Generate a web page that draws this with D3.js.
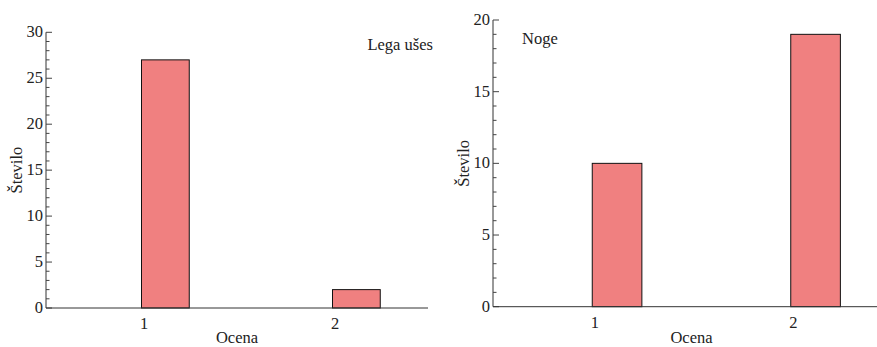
<!DOCTYPE html>
<html>
<head>
<meta charset="utf-8">
<script src="https://cdn.jsdelivr.net/npm/d3@7"></script>
<style>
  body { margin: 0; background: #fff; }
  svg text { font-family: "Liberation Serif", "DejaVu Serif", serif; fill: #222; }
</style>
</head>
<body>
<div class="charts"></div>
<script>
var categories = [1, 2];
var legaUses = [27, 2];
var noge = [10, 19];
var legaTicks = [0, 5, 10, 15, 20, 25, 30];
var nogeTicks = [0, 5, 10, 15, 20];
var xLabel = "Ocena";
var yLabel = "Število";

var svg = d3.select(".charts")
	.append("svg")
	.attr("width", 877)
	.attr("height", 347)
	.attr("font-family", "Liberation Serif, serif");

function plotPanel(p) {
	var x = d3.scaleLinear().domain([0.5, 2.5]).range([p.left, p.right]);
	var y = d3.scaleLinear().domain([0, p.max]).range([p.bottom, p.top]);
	var g = svg.append("g");

	g.selectAll("rect")
		.data(p.values)
		.enter()
		.append("rect")
		.attr("x", function (d, i) { return x(categories[i]); })
		.attr("y", function (d) { return y(d); })
		.attr("width", function (d, i) { return x(categories[i] + 0.25) - x(categories[i]); })
		.attr("height", function (d) { return y(0) - y(d); })
		.style("fill", "#f08080")
		.style("stroke", "#111")
		.style("stroke-width", 1);

	// y axis with minor ticks every 1
	g.append("line")
		.attr("x1", p.left).attr("x2", p.left)
		.attr("y1", y(p.max)).attr("y2", y(0))
		.style("stroke", "#333");
	g.selectAll(".minor")
		.data(d3.range(0, p.max + 1))
		.enter()
		.append("line")
		.attr("x1", p.left)
		.attr("x2", function (d) { return p.left + (d % 5 == 0 ? 6 : 3.5); })
		.attr("y1", function (d) { return y(d); })
		.attr("y2", function (d) { return y(d); })
		.style("stroke", "#444");
	g.selectAll(".ylab")
		.data(p.ticks)
		.enter()
		.append("text")
		.attr("x", p.left - 3)
		.attr("y", function (d) { return y(d) + 5; })
		.attr("text-anchor", "end")
		.attr("font-size", 16.5)
		.text(function (d) { return d; });

	// x axis
	g.append("line")
		.attr("x1", p.left).attr("x2", p.right)
		.attr("y1", y(0)).attr("y2", y(0))
		.style("stroke", "#333");
	g.selectAll(".xlab")
		.data(categories)
		.enter()
		.append("text")
		.attr("x", function (d) { return x(d) + 2.5; })
		.attr("y", y(0) + 21)
		.attr("text-anchor", "middle")
		.attr("font-size", 16.5)
		.text(function (d) { return d; });

	g.append("text")
		.attr("x", (p.left + p.right) / 2)
		.attr("y", 343)
		.attr("text-anchor", "middle")
		.attr("font-size", 16.5)
		.text(xLabel);
	g.append("text")
		.attr("transform", "translate(" + (p.left - 24) + "," + ((p.top + p.bottom) / 2) + ") rotate(-90)")
		.attr("text-anchor", "middle")
		.attr("font-size", 16.5)
		.text(yLabel);

	g.append("text")
		.attr("x", p.titleX)
		.attr("y", p.titleY)
		.attr("text-anchor", p.anchor)
		.attr("font-size", 16.5)
		.text(p.title);
}

plotPanel({ values: legaUses, ticks: legaTicks, max: 30, left: 46, right: 428, top: 32.3, bottom: 308,
	title: "Lega ušes", titleX: 433, titleY: 50, anchor: "end" });
plotPanel({ values: noge, ticks: nogeTicks, max: 20, left: 493, right: 890, top: 20, bottom: 306.7,
	title: "Noge", titleX: 522, titleY: 44, anchor: "start" });
</script>
</body>
</html>
